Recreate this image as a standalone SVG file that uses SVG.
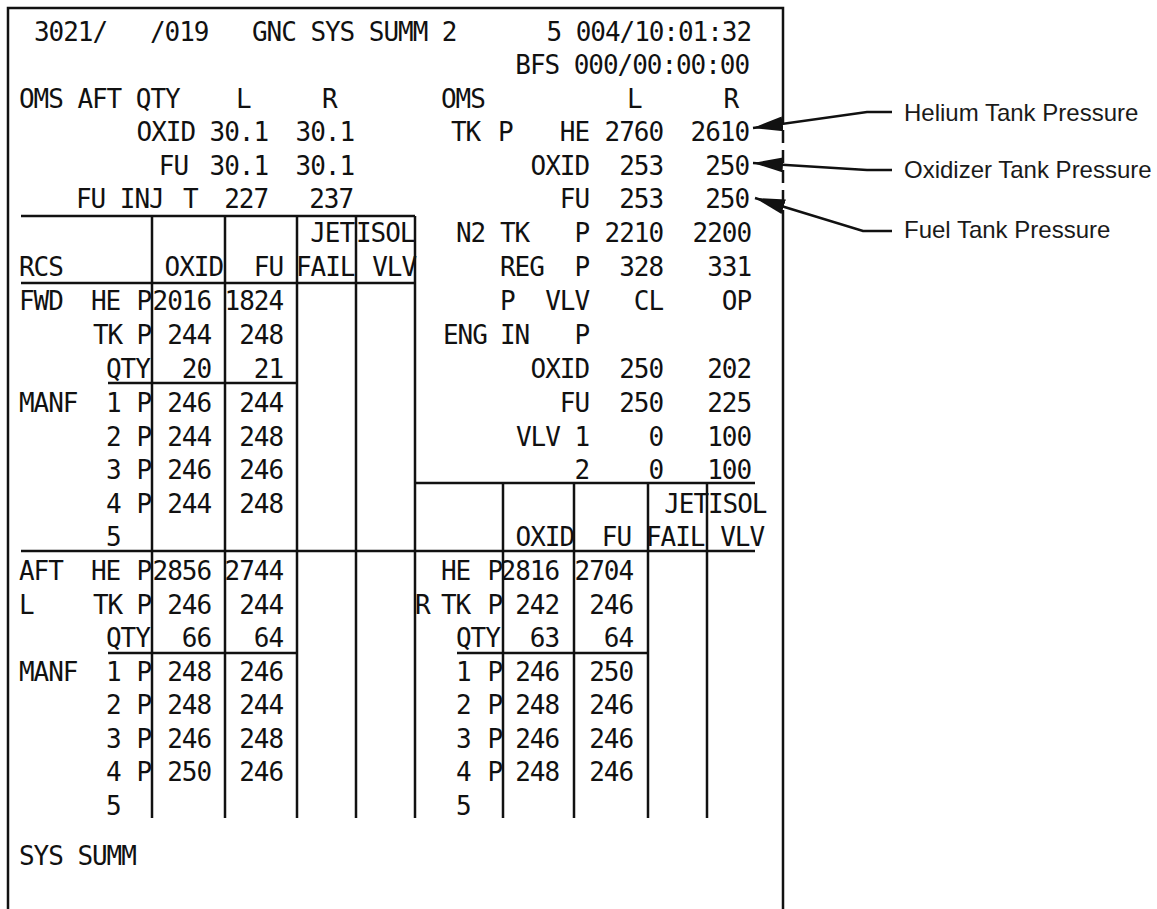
<svg xmlns="http://www.w3.org/2000/svg" width="1157" height="909" viewBox="0 0 1157 909">
<style>
.m{font-family:"DejaVu Sans Mono","Liberation Mono",monospace;font-size:26px;letter-spacing:-1.05px;fill:#111}
.e{text-anchor:end}
.lbl{font-family:"Liberation Sans",Arial,sans-serif;font-size:24px;fill:#1a1a1a}
.ln{stroke:#111;stroke-width:2.5;fill:none}
.ar{stroke:#111;stroke-width:2.5;fill:none;marker-end:url(#ah)}
</style>
<defs>
<marker id="ah" markerUnits="userSpaceOnUse" markerWidth="32" markerHeight="15" refX="30" refY="7.5" orient="auto"><path d="M0,0 L30,7.5 L0,15 z" fill="#111"/></marker>
</defs>
<rect width="1157" height="909" fill="#fff"/>
<g id="frame">
<path class="ln" d="M8,909 V8 H783 V110 M783,215 V909"/>
<path class="ln" d="M783,110 V215" stroke-dasharray="13 7"/>
</g>
<g id="grid">
<path class="ln" d="M21,216 H415 M21,283 H415 M108,383 H297 M21,551 H755 M108,653 H297 M415,483 H755 M457,653 H648"/>
<path class="ln" d="M152,216 V818 M225,216 V818 M297,216 V818 M356,216 V818 M415,216 V818 M503,483 V818 M574,483 V818 M648,483 V818 M707,483 V818"/>
</g>
<g id="display" class="m">
<text x="34" y="41">3021/</text><text x="150" y="41">/019</text><text x="252" y="41">GNC SYS SUMM 2</text><text class="e" x="751" y="41">5 004/10:01:32</text>
<text class="e" x="749" y="74">BFS 000/00:00:00</text>
<text x="19" y="108">OMS AFT QTY</text><text x="236" y="108">L</text><text x="322" y="108">R</text>
<text x="441" y="108">OMS</text><text x="627" y="108">L</text><text class="e" x="738" y="108">R</text>
<text class="e" x="195" y="141">OXID</text><text class="e" x="268" y="141">30.1</text><text class="e" x="354" y="141">30.1</text>
<text x="451" y="141">TK</text><text x="498" y="141">P</text><text class="e" x="589" y="141">HE</text><text class="e" x="663" y="141">2760</text><text class="e" x="749" y="141">2610</text>
<text class="e" x="188" y="175">FU</text><text class="e" x="268" y="175">30.1</text><text class="e" x="354" y="175">30.1</text>
<text class="e" x="589" y="175">OXID</text><text class="e" x="663" y="175">253</text><text class="e" x="749" y="175">250</text>
<text x="76" y="208">FU INJ</text><text x="183" y="208">T</text><text class="e" x="268" y="208">227</text><text class="e" x="353" y="208">237</text>
<text class="e" x="589" y="208">FU</text><text class="e" x="663" y="208">253</text><text class="e" x="749" y="208">250</text>
<text class="e" x="354" y="242">JET</text><text x="356" y="242">ISOL</text>
<text x="456" y="242">N2</text><text x="500" y="242">TK</text><text class="e" x="589" y="242">P</text><text class="e" x="663" y="242">2210</text><text class="e" x="751" y="242">2200</text>
<text x="19" y="276">RCS</text><text class="e" x="223" y="276">OXID</text><text class="e" x="283" y="276">FU</text><text x="296" y="276">FAIL</text><text class="e" x="416" y="276">VLV</text>
<text x="500" y="276">REG</text><text class="e" x="589" y="276">P</text><text class="e" x="663" y="276">328</text><text class="e" x="751" y="276">331</text>
<text x="19" y="310">FWD</text><text x="91" y="310">HE</text><text class="e" x="151" y="310">P</text><text class="e" x="211" y="310">2016</text><text class="e" x="283" y="310">1824</text>
<text x="500" y="310">P</text><text class="e" x="589" y="310">VLV</text><text class="e" x="663" y="310">CL</text><text class="e" x="751" y="310">OP</text>
<text x="93" y="344">TK</text><text class="e" x="151" y="344">P</text><text class="e" x="211" y="344">244</text><text class="e" x="283" y="344">248</text>
<text x="443" y="344">ENG</text><text x="500" y="344">IN</text><text class="e" x="589" y="344">P</text>
<text x="106" y="378">QTY</text><text class="e" x="211" y="378">20</text><text class="e" x="283" y="378">21</text>
<text class="e" x="589" y="378">OXID</text><text class="e" x="663" y="378">250</text><text class="e" x="751" y="378">202</text>
<text x="19" y="412">MANF</text><text x="106" y="412">1</text><text class="e" x="151" y="412">P</text><text class="e" x="211" y="412">246</text><text class="e" x="283" y="412">244</text>
<text class="e" x="589" y="412">FU</text><text class="e" x="663" y="412">250</text><text class="e" x="751" y="412">225</text>
<text x="106" y="446">2</text><text class="e" x="151" y="446">P</text><text class="e" x="211" y="446">244</text><text class="e" x="283" y="446">248</text>
<text x="516" y="446">VLV</text><text class="e" x="589" y="446">1</text><text class="e" x="663" y="446">0</text><text class="e" x="751" y="446">100</text>
<text x="106" y="479">3</text><text class="e" x="151" y="479">P</text><text class="e" x="211" y="479">246</text><text class="e" x="283" y="479">246</text>
<text class="e" x="589" y="479">2</text><text class="e" x="663" y="479">0</text><text class="e" x="751" y="479">100</text>
<text x="106" y="513">4</text><text class="e" x="151" y="513">P</text><text class="e" x="211" y="513">244</text><text class="e" x="283" y="513">248</text>
<text class="e" x="708" y="513">JET</text><text x="708" y="513">ISOL</text>
<text x="106" y="546">5</text>
<text class="e" x="574" y="546">OXID</text><text class="e" x="631" y="546">FU</text><text x="646" y="546">FAIL</text><text class="e" x="764" y="546">VLV</text>
<text x="19" y="580">AFT</text><text x="91" y="580">HE</text><text class="e" x="151" y="580">P</text><text class="e" x="211" y="580">2856</text><text class="e" x="283" y="580">2744</text>
<text x="441" y="580">HE</text><text class="e" x="502" y="580">P</text><text class="e" x="559" y="580">2816</text><text class="e" x="633" y="580">2704</text>
<text x="19" y="614">L</text><text x="93" y="614">TK</text><text class="e" x="151" y="614">P</text><text class="e" x="211" y="614">246</text><text class="e" x="283" y="614">244</text>
<text x="415" y="614">R</text><text x="441" y="614">TK</text><text class="e" x="502" y="614">P</text><text class="e" x="559" y="614">242</text><text class="e" x="633" y="614">246</text>
<text x="106" y="647">QTY</text><text class="e" x="211" y="647">66</text><text class="e" x="283" y="647">64</text>
<text x="456" y="647">QTY</text><text class="e" x="559" y="647">63</text><text class="e" x="633" y="647">64</text>
<text x="19" y="681">MANF</text><text x="106" y="681">1</text><text class="e" x="151" y="681">P</text><text class="e" x="211" y="681">248</text><text class="e" x="283" y="681">246</text>
<text x="456" y="681">1</text><text class="e" x="502" y="681">P</text><text class="e" x="559" y="681">246</text><text class="e" x="633" y="681">250</text>
<text x="106" y="714">2</text><text class="e" x="151" y="714">P</text><text class="e" x="211" y="714">248</text><text class="e" x="283" y="714">244</text>
<text x="456" y="714">2</text><text class="e" x="502" y="714">P</text><text class="e" x="559" y="714">248</text><text class="e" x="633" y="714">246</text>
<text x="106" y="748">3</text><text class="e" x="151" y="748">P</text><text class="e" x="211" y="748">246</text><text class="e" x="283" y="748">248</text>
<text x="456" y="748">3</text><text class="e" x="502" y="748">P</text><text class="e" x="559" y="748">246</text><text class="e" x="633" y="748">246</text>
<text x="106" y="781">4</text><text class="e" x="151" y="781">P</text><text class="e" x="211" y="781">250</text><text class="e" x="283" y="781">246</text>
<text x="456" y="781">4</text><text class="e" x="502" y="781">P</text><text class="e" x="559" y="781">248</text><text class="e" x="633" y="781">246</text>
<text x="106" y="815">5</text><text x="456" y="815">5</text>
<text x="19" y="865">SYS SUMM</text>
</g>
<g id="label-helium"><text class="lbl" x="904" y="121">Helium Tank Pressure</text></g>
<g id="label-oxidizer"><text class="lbl" x="904" y="178">Oxidizer Tank Pressure</text></g>
<g id="label-fuel"><text class="lbl" x="904" y="238">Fuel Tank Pressure</text></g>
<g id="connectors">
<polyline class="ar" points="892,112 867,112 753,128"/>
<polyline class="ar" points="892,170 867,170 753,163"/>
<polyline class="ar" points="892,231 863,231 755,198"/>
</g>
</svg>
